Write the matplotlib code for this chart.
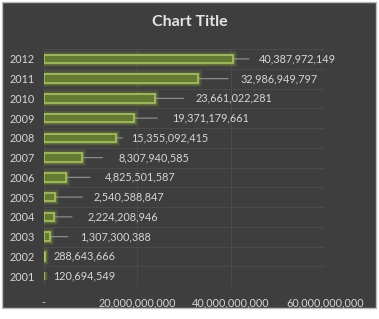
import matplotlib
matplotlib.use('Agg')
import matplotlib.pyplot as plt
from matplotlib.patches import Rectangle
from matplotlib.ticker import FuncFormatter

# data
years = ['2001', '2002', '2003', '2004', '2005', '2006',
         '2007', '2008', '2009', '2010', '2011', '2012']
values = [120694549, 288643666, 1307300388, 2224208946, 2540588847, 4825501587,
          8307940585, 15355092415, 19371179661, 23661022281, 32986949797, 40387972149]
x_ticks = [0, 20e9, 40e9, 60e9]

# label placement (pixels right of bar end): leader line end, text start
line_px = [0, 0, 18, 18, 27, 24, 20, 7, 23, 29, 30, 16]
text_px = [9, 9, 31, 34, 38, 39, 36, 16, 38, 41, 42, 26]

bg = '#3e3e3e'
txt = '#d6d6d6'
fs = 7.8

fig = plt.figure(figsize=(3.79, 3.19), dpi=100, facecolor='white')
fig.patches.append(Rectangle((2/379, 11/319), 374/379, 306/319, transform=fig.transFigure,
                             facecolor=bg, edgecolor='#bdbdbd', lw=1, zorder=-5))
fig.text(0.5, 1 - 22/319, 'Chart Title', ha='center', va='center', color='#e4e4e4',
         fontsize=11.5, fontweight='bold', family='Lato')

ax = fig.add_axes([43.5/379, 33/319, 281.5/379, 237/319])
ax.set_facecolor('none')
ypos = list(range(len(years)))

# glow behind bars
for lw, a in [(6, 0.10), (4, 0.16), (2.5, 0.28)]:
    ax.barh(ypos, values, height=0.42, color='none', edgecolor='#8fae3c', lw=lw, alpha=a, zorder=2)
ax.barh(ypos, values, height=0.42, color='#657a32', edgecolor='#adc867', lw=1.1, zorder=3)

for i, v in enumerate(values):
    if line_px[i] > 0:
        ax.annotate('', xy=(v, i), xytext=(line_px[i], 0), textcoords='offset pixels',
                    arrowprops=dict(arrowstyle='-', color='#8a8a8a', lw=0.9, shrinkA=0, shrinkB=0),
                    zorder=1)
    ax.annotate(f'{v:,}', xy=(v, i), xytext=(text_px[i], 0), textcoords='offset pixels',
                ha='left', va='center', color=txt, fontsize=fs, family='Lato',
                annotation_clip=False)

ax.set_xlim(0, 60e9)
ax.set_ylim(-0.5, len(years) - 0.5)
ax.set_xticks(x_ticks)
ax.xaxis.set_major_formatter(FuncFormatter(lambda x, p: '-' if x == 0 else f'{int(x):,}'))
ax.set_yticks(ypos)
ax.set_yticklabels(years)
ax.tick_params(length=0, colors=txt, labelsize=fs)
for lab in ax.get_xticklabels() + ax.get_yticklabels():
    lab.set_family('Lato')
ax.tick_params(axis='x', pad=8)
ax.tick_params(axis='y', pad=6)

# faint grid: vertical at ticks, horizontal at category boundaries
for x in x_ticks:
    ax.axvline(x, color='#4a4a4a', lw=0.8, zorder=0)
for k in range(len(years) + 1):
    ax.axhline(k - 0.5, color='#4a4a4a', lw=0.8, zorder=0)
for s in ax.spines.values():
    s.set_visible(False)

fig.savefig('out.png', dpi=100, facecolor='white')
